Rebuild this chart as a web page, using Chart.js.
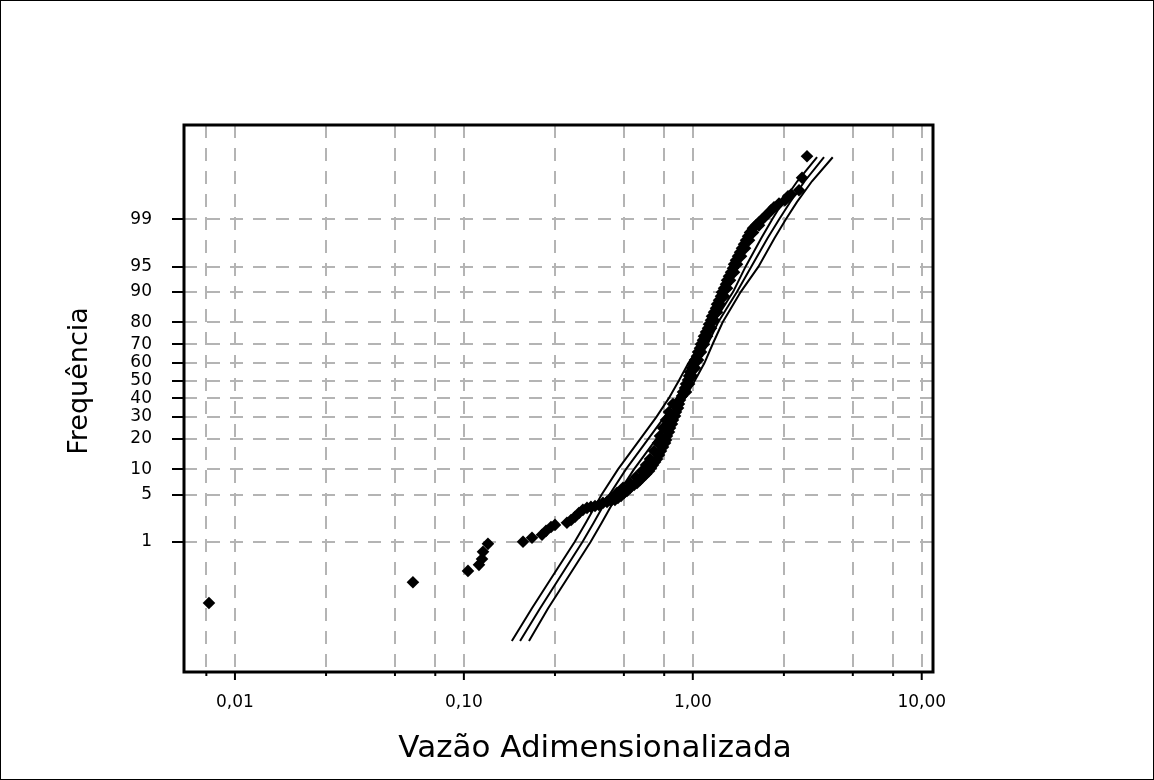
<!DOCTYPE html>
<html lang="pt-BR">
<head>
<meta charset="utf-8">
<title>Frequência x Vazão Adimensionalizada</title>
<script src="https://cdn.jsdelivr.net/npm/chart.js@4.4.0/dist/chart.umd.min.js"></script>
<style>
  html, body { margin: 0; padding: 0; background: #fff; }
  canvas { display: block; }
</style>
</head>
<body>
<canvas id="grafico" width="1154" height="780"></canvas>
<script>
// vazoes observadas (adimensionais) e frequencias (%)
const vazao = [0.0077, 0.0599, 0.1042, 0.1164, 0.1200, 0.1212, 0.1274, 0.1813, 0.1984, 0.2194, 0.2284, 0.2402, 0.2500,
  0.282, 0.294, 0.306, 0.318, 0.331, 0.345, 0.359, 0.374, 0.389, 0.405, 0.422, 0.439, 0.457, 0.471, 0.486, 0.501,
  0.516, 0.532, 0.554, 0.571, 0.588, 0.606, 0.625, 0.644, 0.657, 0.670, 0.684, 0.698, 0.712, 0.726, 0.741, 0.756,
  0.764, 0.771, 0.787, 0.795, 0.811, 0.819, 0.836, 0.844, 0.862, 0.870, 0.879, 0.897, 0.906, 0.925, 0.934, 0.953,
  0.963, 0.972, 0.992, 1.002, 1.022, 1.043, 1.054, 1.075, 1.086, 1.108, 1.119, 1.142, 1.165, 1.177, 1.201, 1.213,
  1.238, 1.263, 1.276, 1.302, 1.328, 1.341, 1.369, 1.396, 1.411, 1.439, 1.469, 1.498, 1.514, 1.544, 1.576, 1.608,
  1.640, 1.674, 1.708, 1.743, 1.778, 1.832, 1.888, 1.946, 2.006, 2.067, 2.131, 2.196, 2.263, 2.380, 2.528, 2.605,
  2.685, 2.911, 3.000, 3.154];
const frequencia = [0.066, 0.18, 0.30, 0.39, 0.50, 0.67, 0.92, 1.00, 1.16, 1.30, 1.50, 1.73, 1.86,
  2.00, 2.21, 2.46, 2.80, 3.10, 3.30, 3.41, 3.51, 3.62, 3.87, 4.00, 4.12, 4.25, 4.51, 4.80, 5.24,
  5.55, 6.07, 6.59, 6.97, 7.58, 8.20, 8.89, 9.59, 10.36, 11.16, 12.0, 12.89, 14.15, 15.47, 16.90, 18.36,
  19.56, 21.17, 22.90, 24.67, 26.54, 28.46, 30.43, 32.49, 34.58, 36.74, 38.93, 41.15, 43.42, 45.70, 47.99, 50.29,
  52.58, 54.88, 57.16, 59.40, 61.63, 63.80, 65.95, 68.03, 70.06, 72.04, 73.93, 75.80, 77.53, 79.23, 80.84, 82.37,
  83.84, 85.19, 86.51, 87.70, 88.84, 89.90, 90.88, 91.80, 92.62, 93.41, 94.11, 94.76, 95.35, 95.88, 96.38, 96.80,
  97.20, 97.55, 97.86, 98.14, 98.38, 98.61, 98.75, 98.89, 99.00, 99.11, 99.21, 99.30, 99.385, 99.47, 99.54, 99.61,
  99.64, 99.70, 99.83, 99.94];
// borda esquerda da nuvem entre 5% e 40%
const vazao2 = [0.4392, 0.4666, 0.4955, 0.5317, 0.5648, 0.5999, 0.6245, 0.6502, 0.6768, 0.7046, 0.7188, 0.7410, 0.7636, 0.7870, 0.8193];
const frequencia2 = [4.51, 5.24, 6.07, 6.97, 8.20, 9.59, 11.16, 12.89, 15.47, 18.36, 21.17, 24.67, 28.46, 32.49, 36.74];
// borda direita da nuvem entre 40% e 99%
const vazao3 = [0.934, 0.963, 0.992, 1.022, 1.054, 1.086, 1.119, 1.154, 1.201, 1.238, 1.276, 1.315, 1.369, 1.411,
  1.454, 1.514, 1.560, 1.624, 1.691, 1.760, 1.832, 1.946];
const frequencia3 = [43.42, 47.99, 52.58, 57.16, 61.63, 65.95, 70.06, 73.93, 77.53, 80.84, 83.84, 86.51, 88.84, 90.88,
  92.62, 94.11, 95.35, 96.38, 97.20, 97.86, 98.38, 98.75];

// curvas ajustadas (limite inferior, media, limite superior)
const freqCurva = [0.0085, 0.05, 0.2, 1, 2, 5, 10, 20, 30, 40, 50, 60, 70, 80, 90, 95, 98, 99, 99.5, 99.8, 99.937];
const curvaInf = [0.162, 0.198, 0.238, 0.305, 0.341, 0.400, 0.471, 0.590, 0.694, 0.786, 0.870, 0.957, 1.090, 1.235, 1.500, 1.700, 1.990, 2.220, 2.470, 2.860, 3.490];
const curvaMed = [0.176, 0.215, 0.258, 0.330, 0.369, 0.433, 0.510, 0.639, 0.752, 0.851, 0.942, 1.037, 1.160, 1.290, 1.560, 1.800, 2.120, 2.380, 2.660, 3.080, 3.743];
const curvaSup = [0.1925, 0.233, 0.280, 0.358, 0.400, 0.469, 0.553, 0.693, 0.815, 0.923, 1.021, 1.124, 1.220, 1.350, 1.620, 1.935, 2.273, 2.546, 2.848, 3.315, 4.085];

// eixos
const xGrade = [0.0075, 0.01, 0.025, 0.05, 0.075, 0.1, 0.25, 0.5, 0.75, 1, 2.5, 5, 7.5, 10];
const xMarcas = [0.01, 0.1, 1, 10];
const xRotulos = ['0,01', '0,10', '1,00', '10,00'];
const yMarcas = [1, 5, 10, 20, 30, 40, 50, 60, 70, 80, 90, 95, 99];

(() => {
  // inversa da normal padrao (Acklam)
  const probit = p => {
    if (p <= 0) return -Infinity;
    if (p >= 1) return Infinity;
    const a = [-39.69683028665376, 220.9460984245205, -275.9285104469687, 138.3577518672690, -30.66479806614716, 2.506628277459239];
    const b = [-54.47609879822406, 161.5858368580409, -155.6989798598866, 66.80131188771972, -13.28068155288572];
    const c = [-0.007784894002430293, -0.3223964580411365, -2.400758277161838, -2.549732539343734, 4.374664141464968, 2.938163982698783];
    const d = [0.007784695709041462, 0.3224671290700398, 2.445134137142996, 3.754408661907416];
    const tail = q => (((((c[0]*q+c[1])*q+c[2])*q+c[3])*q+c[4])*q+c[5]) / ((((d[0]*q+d[1])*q+d[2])*q+d[3])*q+1);
    if (p < 0.02425) return tail(Math.sqrt(-2 * Math.log(p)));
    if (p > 0.97575) return -tail(Math.sqrt(-2 * Math.log(1 - p)));
    const q = p - 0.5, r = q * q;
    return (((((a[0]*r+a[1])*r+a[2])*r+a[3])*r+a[4])*r+a[5])*q / (((((b[0]*r+b[1])*r+b[2])*r+b[3])*r+b[4])*r+1);
  };
  const normCdf = z => {
    const t = 1 / (1 + 0.2316419 * Math.abs(z));
    const q = 0.3989423 * Math.exp(-z * z / 2) * t * (0.3193815 + t * (-0.3565638 + t * (1.781478 + t * (-1.821256 + t * 1.330274))));
    return z > 0 ? 1 - q : q;
  };

  // escala de probabilidade normal (papel de probabilidade)
  class EscalaProbabilidade extends Chart.Scale {
    determineDataLimits() { this.min = this.options.min; this.max = this.options.max; }
    buildTicks() { return yMarcas.map(v => ({ value: v })); }
    configure() {
      super.configure();
      this._z0 = probit(this.min / 100);
      this._dz = probit(this.max / 100) - this._z0;
    }
    getPixelForValue(v) { return this.getPixelForDecimal((probit(v / 100) - this._z0) / this._dz); }
    getValueForPixel(px) { return 100 * normCdf(this._z0 + this.getDecimalForPixel(px) * this._dz); }
    getLabelForValue(v) { return String(v); }
  }
  EscalaProbabilidade.id = 'probabilidade';
  EscalaProbabilidade.defaults = {};
  Chart.register(EscalaProbabilidade);

  const moldura = {
    id: 'moldura',
    afterDraw(chart) {
      const { ctx, chartArea: a, scales: { x } } = chart;
      ctx.save();
      ctx.strokeStyle = '#000';
      ctx.lineWidth = 2;
      ctx.beginPath();
      xGrade.forEach(v => {
        const px = x.getPixelForValue(v);
        ctx.moveTo(px, a.bottom);
        ctx.lineTo(px, a.bottom + (xMarcas.includes(v) ? 8 : 4));
      });
      ctx.stroke();
      ctx.lineWidth = 3;
      ctx.strokeRect(a.left, a.top, a.right - a.left, a.bottom - a.top);
      ctx.lineWidth = 1;
      ctx.strokeRect(0.5, 0.5, chart.width - 1, chart.height - 1);
      ctx.fillStyle = '#000';
      ctx.textAlign = 'center';
      ctx.textBaseline = 'middle';
      ctx.font = '31px "DejaVu Sans"';
      ctx.fillText('Vazão Adimensionalizada', 595, 749);
      ctx.translate(80, 381);
      ctx.rotate(-Math.PI / 2);
      ctx.font = '27px "DejaVu Sans"';
      ctx.fillText('Frequência', 0, 0);
      ctx.restore();
    }
  };

  Chart.defaults.font.family = '"DejaVu Sans", sans-serif';
  Chart.defaults.color = '#000';

  const pares = (xs, ys) => xs.map((v, i) => ({ x: v, y: ys[i] }));
  const pontos = pares(vazao, frequencia).concat(pares(vazao2, frequencia2), pares(vazao3, frequencia3));
  const linha = xs => ({
    data: pares(xs, freqCurva),
    showLine: true, borderColor: '#000', borderWidth: 2, pointRadius: 0, order: 2
  });

  new Chart(document.querySelector('#grafico'), {
    type: 'scatter',
    data: {
      datasets: [
        { data: pontos, pointStyle: 'rectRot', pointRadius: 6.3, backgroundColor: '#000', borderWidth: 0, order: 1 },
        linha(curvaInf), linha(curvaMed), linha(curvaSup)
      ]
    },
    options: {
      responsive: false,
      animation: false,
      devicePixelRatio: 1,
      layout: { padding: { top: 125, right: 221, left: 0, bottom: 0 } },
      plugins: { legend: { display: false }, tooltip: { enabled: false } },
      scales: {
        x: {
          type: 'logarithmic', min: 0.00599, max: 11.2,
          afterBuildTicks: s => { s.ticks = xGrade.map(v => ({ value: v })); },
          afterFit: s => { s.height = 108; },
          grid: { color: '#b4b4b4', lineWidth: 2, drawTicks: false },
          border: { display: false, dash: [13, 10] },
          ticks: {
            autoSkip: false, maxRotation: 0, padding: 20, font: { size: 17 },
            callback: v => { const i = xMarcas.indexOf(v); return i < 0 ? '' : xRotulos[i]; }
          }
        },
        y: {
          type: 'probabilidade', min: 0.00129, max: 99.9888,
          afterFit: s => { s.width = 184; },
          grid: { color: '#b4b4b4', lineWidth: 2, tickLength: 12, tickColor: '#000', tickWidth: 2, tickBorderDash: [] },
          border: { display: false, dash: [13, 10] },
          ticks: { autoSkip: false, padding: 20, font: { size: 17 }, callback: v => String(v) }
        }
      }
    },
    plugins: [moldura]
  });
})();
</script>
</body>
</html>
